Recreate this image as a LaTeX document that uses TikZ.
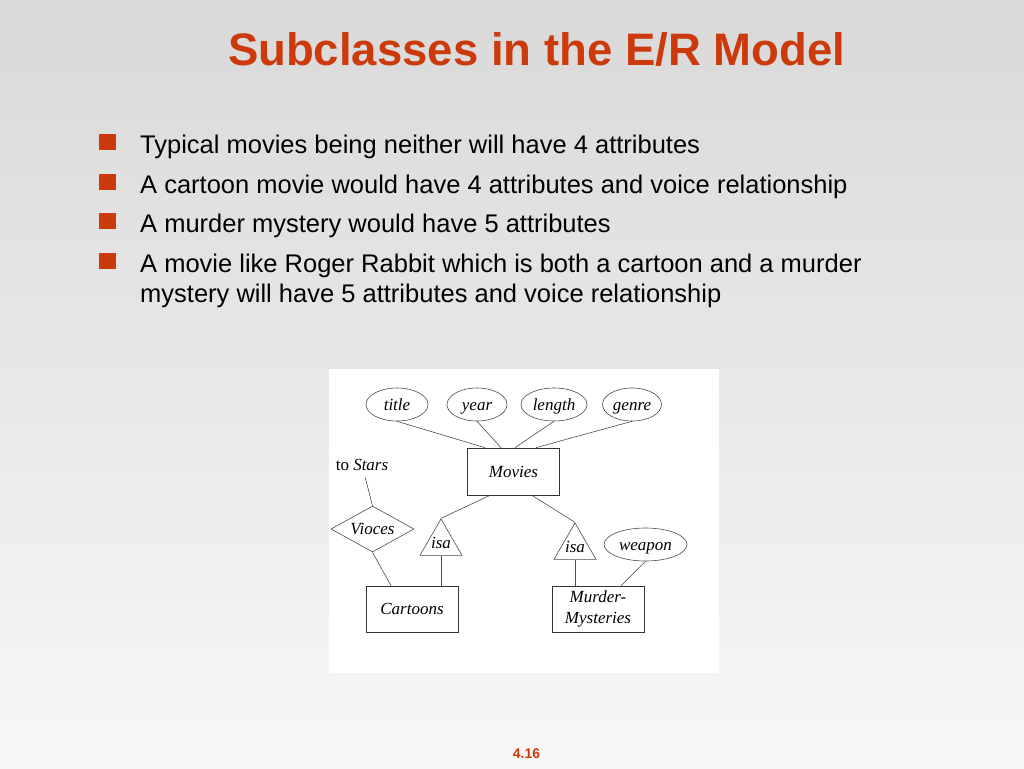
\documentclass[tikz,border=0pt]{standalone}
\usepackage{fontspec}
\setmainfont{Liberation Serif}
\newfontfamily\slidefont{Liberation Sans}
\usepackage{xcolor}
\usetikzlibrary{shapes.geometric}
\definecolor{slidered}{HTML}{CC3A0C}

\begin{document}
\begin{tikzpicture}[x=1pt, y=-1pt,
    entity/.style={draw=black!80, line width=0.7pt, rectangle, minimum width=92pt, minimum height=46pt, inner sep=0pt, font=\itshape\fontsize{17}{21}\selectfont, align=center},
    attr/.style={draw=black!70, line width=0.6pt, ellipse, minimum height=33pt, inner sep=0pt, text height=13pt, text depth=2pt, font=\itshape\fontsize{17}{21}\selectfont},
    isabox/.style={draw=black!70, line width=0.6pt, regular polygon, regular polygon sides=3, minimum size=48.5pt, inner sep=-3pt, font=\itshape\fontsize{17}{21}\selectfont},
    bullet/.style={fill=slidered, minimum width=17pt, minimum height=16pt, inner sep=0pt},
    point/.style={anchor=base west, inner sep=0pt, align=left, font=\slidefont\fontsize{25.5}{30}\selectfont}]
    % Background
    \shade[top color=black!15, bottom color=black!3] (0,0) rectangle (1024,768);
    \useasboundingbox (0,0) rectangle (1024,768);

    % Title and bullets
    \node[anchor=base, inner sep=0pt, text=slidered, font=\slidefont\bfseries\fontsize{45.5}{50}\selectfont] (title) at (536.5,66) {Subclasses in the E/R Model};
    \node[bullet] (b1) at (107.5,142) {};
    \node[bullet] (b2) at (107.5,182) {};
    \node[bullet] (b3) at (107.5,221) {};
    \node[bullet] (b4) at (107.5,261) {};
    \node[point] (p1) at (140,153) {Typical movies being neither will have 4 attributes};
    \node[point] (p2) at (140,193) {A cartoon movie would have 4 attributes and voice relationship};
    \node[point] (p3) at (140,232) {A murder mystery would have 5 attributes};
    \node[point] (p4) at (140,302) {A movie like Roger Rabbit which is both a cartoon and a murder\\mystery will have 5 attributes and voice relationship};
    \node[anchor=base, inner sep=0pt, text=slidered, font=\slidefont\bfseries\fontsize{14}{16}\selectfont] (page) at (526.5,758) {4.16};

    % Diagram panel
    \fill[white] (329,369) rectangle (719,673);

    % Main components
    \node[attr, minimum width=62pt] (ttl) at (397,404.5) {title};
    \node[attr, minimum width=60pt] (year) at (477,404.5) {year};
    \node[attr, minimum width=66pt] (length) at (554,404.5) {length};
    \node[attr, minimum width=59pt] (genre) at (632,404.5) {genre};
    \node[entity, minimum height=47pt, text height=13pt, text depth=2pt] (movies) at (513.5,471.5) {Movies};
    \node[inner sep=2pt, font=\fontsize{17}{21}\selectfont] (stars) at (362,465) {to \textit{Stars}};
    \node[draw=black!70, line width=0.6pt, diamond, aspect=1.8, minimum width=83pt, minimum height=46pt, inner sep=0pt, font=\itshape\fontsize{17}{21}\selectfont] (voices) at (372.5,529) {Vioces};
    \node[isabox] (isaA) at (441,543.2) {isa};
    \node[isabox] (isaB) at (575,547.2) {isa};
    \node[entity, text height=13pt, text depth=3pt] (cartoons) at (412,609) {Cartoons};
    \node[entity] (mm) at (598,609) {Murder-\\Mysteries};
    \node[attr, minimum width=83pt] (weapon) at (645.5,544.5) {weapon};

    % Connections
    \begin{scope}[draw=black!70, line width=0.6pt]
    \draw (ttl.south) -- ([xshift=-28.5pt]movies.north);
    \draw (year.south) -- ([xshift=-12.5pt]movies.north);
    \draw (length.south) -- ([xshift=1.5pt]movies.north);
    \draw (genre.south) -- ([xshift=22.5pt]movies.north);
    \draw ([xshift=-23.5pt]movies.south) -- (isaA.north);
    \draw ([xshift=18.5pt]movies.south) -- (isaB.north);
    \draw (isaA.south) -- (isaA.south |- cartoons.north);
    \draw (isaB.south) -- (isaB.south |- mm.north);
    \draw[shorten <=5pt] (stars) -- (voices.north);
    \draw (voices.south) -- ([xshift=-21pt]cartoons.north);
    \draw (weapon.south) -- ([xshift=23pt]mm.north);
    \end{scope}
\end{tikzpicture}
\end{document}
